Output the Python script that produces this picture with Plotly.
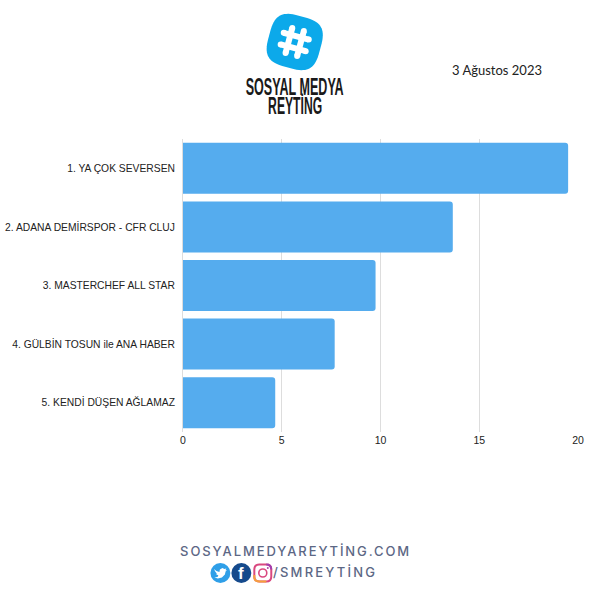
import math
import plotly.graph_objects as go

categories = ["1. YA ÇOK SEVERSEN", "2. ADANA DEMİRSPOR - CFR CLUJ", "3. MASTERCHEF ALL STAR",
              "4. GÜLBİN TOSUN ile ANA HABER", "5. KENDİ DÜŞEN AĞLAMAZ"]
values = [19.5, 13.66, 9.75, 7.68, 4.67]
tick_values = [0, 5, 10, 15, 20]
date_text = "3 Ağustos 2023"
logo_lines = ["SOSYAL MEDYA", "REYTİNG"]
site_text = "SOSYALMEDYAREYTİNG.COM"
handle_text = "/SMREYTİNG"

W, H = 592, 596
L, R, T, B = 182.5, 13.5, 139, 164
BLUE = "#55ACEE"
LOGO = "#0CA9EA"

fig = go.Figure(go.Bar(y=categories, x=values, orientation="h",
                       marker=dict(color=BLUE, cornerradius=3, line=dict(width=0)), width=0.87))
fig.update_layout(
    width=W, height=H, autosize=False, showlegend=False,
    paper_bgcolor="white", plot_bgcolor="white",
    margin=dict(l=L, r=R, t=T, b=B, pad=0),
    font=dict(family="Liberation Sans, Arial, sans-serif", size=10.3, color="#222"),
    xaxis=dict(range=[0, 20], tickvals=tick_values, showgrid=True, gridcolor="#DDDDDD", gridwidth=1,
               zeroline=False, showline=False, ticks="", automargin=False, tickfont=dict(size=10.5, color="#222")),
    yaxis=dict(autorange="reversed", showgrid=False, ticks="", showline=True, linecolor="#DDDDDD",
               automargin=False, tickfont=dict(size=10.3, color="#222"), ticklabelstandoff=5),
)

def X(p): return (p - L) / (W - L - R)
def Y(p): return (H - B - p) / (H - T - B)
shapes, annos = [], []

def path(d, **kw):
    shapes.append(dict(type="path", path=d, xref="paper", yref="paper", layer="above", **kw))

def pt(x, y): return f"{X(x):.5f} {Y(y):.5f}"

def squircle(cx, cy, r, rot):
    pts = []
    n = 72
    for i in range(n):
        t = 2 * math.pi * i / n
        c, s = math.cos(t), math.sin(t)
        e = 0.62
        px = r * math.copysign(abs(c) ** e, c)
        py = r * math.copysign(abs(s) ** e, s)
        pts.append((cx + px * math.cos(rot) - py * math.sin(rot), cy + px * math.sin(rot) + py * math.cos(rot)))
    return "M" + "L".join(pt(*p) for p in pts) + "Z"

CX, CY = 294.5, 42
rot = math.radians(15)
path(squircle(CX, CY, 26.5, rot), fillcolor=LOGO, line=dict(width=0))

def circle(cx, cy, r, color):
    shapes.append(dict(type="circle", xref="paper", yref="paper", x0=X(cx - r), x1=X(cx + r), y0=Y(cy + r), y1=Y(cy - r),
                       fillcolor=color, line=dict(width=0), layer="above"))

def hash_line(u0, v0, u1, v1):
    c, s = math.cos(rot), math.sin(rot)
    a = (CX + u0 * c - v0 * s, CY + u0 * s + v0 * c)
    b = (CX + u1 * c - v1 * s, CY + u1 * s + v1 * c)
    shapes.append(dict(type="line", xref="paper", yref="paper", x0=X(a[0]), y0=Y(a[1]), x1=X(b[0]), y1=Y(b[1]),
                       line=dict(color="white", width=6), layer="above"))
    circle(a[0], a[1], 3, "white")
    circle(b[0], b[1], 3, "white")
for o in (-6, 6):
    hash_line(o, -13, o, 13)
    hash_line(-13, o, 13, o)

def ann(x, y, text, size, color, family, anchor="center", weight="normal"):
    annos.append(dict(x=X(x), y=Y(y), xref="paper", yref="paper", text=text, showarrow=False,
                      xanchor=anchor, yanchor="middle",
                      font=dict(size=size, color=color, family=family, weight=weight)))

ann(294.5, 87, logo_lines[0], 23, "#1a1a1a", "Liberation Sans", weight="bold")
ann(294.5, 106, logo_lines[1], 23, "#1a1a1a", "Liberation Sans", weight="bold")
ann(497.5, 70, date_text, 13, "#222", "Lato, Inter, sans-serif")
ann(295, 551, site_text, 13, "#5C6785", "Inter, Lato, sans-serif", weight=500)
ann(325, 572, handle_text, 13, "#5C6785", "Inter, Lato, sans-serif", weight=500)

# social icons
circle(220, 573, 10, "#2F9FE8")
circle(241, 573, 10, "#154A8C")
ann(241, 573.5, "f", 17, "white", "Liberation Sans", weight="bold")
bird = [(213.5, 569), (216, 571), (219, 572), (219.5, 569.5), (222, 568), (224, 569), (226, 568.5), (225, 570.3), (226.5, 570),
        (225.2, 571.5), (224.5, 574.5), (221.5, 577.5), (217.5, 578.5), (214, 577.5), (217, 577), (218, 575.5), (215.5, 574), (216.5, 573.7), (214.8, 571.5)]
path("M" + "L".join(pt(*p) for p in bird) + "Z", fillcolor="white", line=dict(width=0))

def rrect(x0, y0, x1, y1, r):
    return (f"M{pt(x0+r,y0)}L{pt(x1-r,y0)}Q{pt(x1,y0)} {pt(x1,y0+r)}L{pt(x1,y1-r)}"
            f"Q{pt(x1,y1)} {pt(x1-r,y1)}L{pt(x0+r,y1)}Q{pt(x0,y1)} {pt(x0,y1-r)}"
            f"L{pt(x0,y0+r)}Q{pt(x0,y0)} {pt(x0+r,y0)}Z")
NOFILL = "rgba(0,0,0,0)"
path(rrect(254, 564.5, 271, 581.5, 5), fillcolor=NOFILL, line=dict(color="#D9487F", width=2))
path(f"M{pt(254,575)}L{pt(254,577)}Q{pt(254,581.5)} {pt(259,581.5)}L{pt(266,581.5)}", fillcolor=NOFILL, line=dict(color="#F6A03C", width=2))
path(f"M{pt(266,564.5)}Q{pt(271,564.5)} {pt(271,569.5)}", fillcolor=NOFILL, line=dict(color="#A23FAE", width=2))
shapes.append(dict(type="circle", xref="paper", yref="paper", x0=X(258.5), x1=X(266.5), y0=Y(577), y1=Y(569),
                   fillcolor=NOFILL, line=dict(color="#D9487F", width=1.6), layer="above"))
circle(267.5, 568, 1, "#B23FA5")

fig.update_layout(shapes=shapes, annotations=annos)

post = """
var st=document.createElement('style');
st.textContent='body{margin:0}';
document.head.appendChild(st);
document.querySelectorAll('.annotation-text').forEach(function(t){
  var s=t.textContent;
  if(s.indexOf('SOSYALMEDYA')===0){t.style.letterSpacing='1.9px';}
  if(s.indexOf('/SMREY')===0){t.style.letterSpacing='2.2px';}
  if(s==='SOSYAL MEDYA'){t.setAttribute('textLength','98');t.setAttribute('lengthAdjust','spacingAndGlyphs');}
  if(s==='REYTİNG'){t.setAttribute('textLength','54');t.setAttribute('lengthAdjust','spacingAndGlyphs');}
});
"""
fig.write_html("out.html", post_script=post, config={"displayModeBar": False})
